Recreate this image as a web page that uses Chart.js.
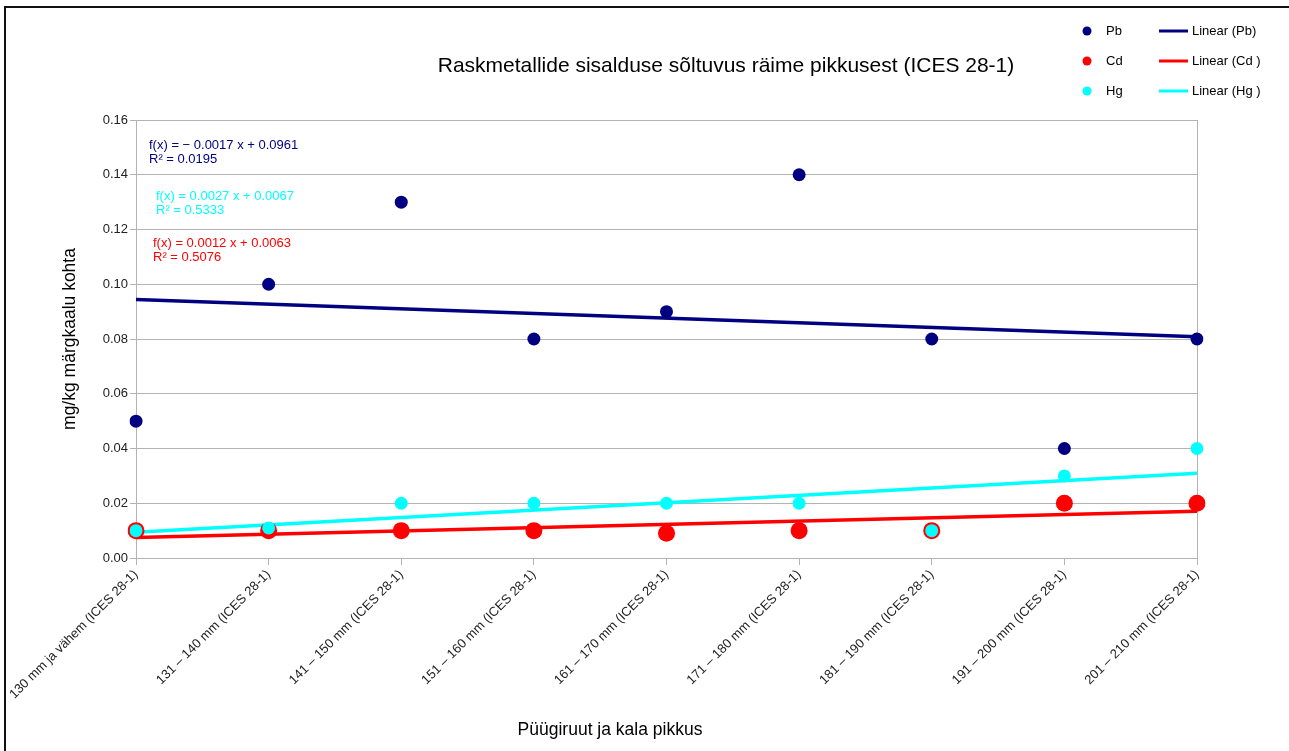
<!DOCTYPE html>
<html>
<head>
<meta charset="utf-8">
<script src="https://cdn.jsdelivr.net/npm/chart.js@4"></script>
<style>
  html, body { margin: 0; padding: 0; background: #fff; overflow: hidden; }
  #wrap { position: relative; width: 1289px; height: 751px; }
  #frame { position: absolute; left: 4px; top: 6px; width: 1400px; height: 900px;
           border: 2px solid #111; pointer-events: none; }
</style>
</head>
<body>
<div id="wrap">
  <canvas id="chart" width="1289" height="751"></canvas>
  <div id="frame"></div>
</div>
<script>
const categories = [
  '130 mm ja vähem (ICES 28-1)',
  '131 – 140 mm (ICES 28-1)',
  '141 – 150 mm (ICES 28-1)',
  '151 – 160 mm (ICES 28-1)',
  '161 – 170 mm (ICES 28-1)',
  '171 – 180 mm (ICES 28-1)',
  '181 – 190 mm (ICES 28-1)',
  '191 – 200 mm (ICES 28-1)',
  '201 – 210 mm (ICES 28-1)'
];

const pbValues = [0.05, 0.10, 0.13, 0.08, 0.09, 0.14, 0.08, 0.04, 0.08];
const cdValues = [0.01, 0.01, 0.01, 0.01, 0.009, 0.01, 0.01, 0.02, 0.02];
const hgValues = [0.01, 0.011, 0.02, 0.02, 0.02, 0.02, 0.01, 0.03, 0.04];

// trend line end values (first and last category)
const pbTrend = [0.0944, 0.0808];
const cdTrend = [0.0075, 0.0171];
const hgTrend = [0.0094, 0.0310];

const yTicks = [0, 0.02, 0.04, 0.06, 0.08, 0.10, 0.12, 0.14, 0.16];

const equations = [
  { lines: ['f(x) = − 0.0017 x + 0.0961', 'R² = 0.0195'], color: '#000080', x: 149, y: 145 },
  { lines: ['f(x) = 0.0027 x + 0.0067', 'R² = 0.5333'], color: '#00ffff', x: 156, y: 196 },
  { lines: ['f(x) = 0.0012 x + 0.0063', 'R² = 0.5076'], color: '#ff0000', x: 153, y: 243 }
];

const legendItems = [
  { point: 'Pb', line: 'Linear (Pb)', color: '#000080' },
  { point: 'Cd', line: 'Linear (Cd )', color: '#ff0000' },
  { point: 'Hg', line: 'Linear (Hg )', color: '#00ffff' }
];

const FONT = '"Liberation Sans", Arial, sans-serif';
const GRID = '#b3b3b3';

function trendData(ends) {
  return [
    { x: categories[0], y: ends[0] },
    { x: categories[categories.length - 1], y: ends[1] }
  ];
}

const decorPlugin = {
  id: 'decor',
  afterDraw(chart) {
    const ctx = chart.ctx;
    ctx.save();
    ctx.textBaseline = 'middle';

    // title
    ctx.fillStyle = '#000';
    ctx.font = `21px ${FONT}`;
    ctx.textAlign = 'center';
    ctx.fillText('Raskmetallide sisalduse sõltuvus räime pikkusest (ICES 28-1)', 726, 66);

    // axis titles
    ctx.font = `17.5px ${FONT}`;
    ctx.fillText('Püügiruut ja kala pikkus', 610, 730);
    ctx.save();
    ctx.translate(70, 339);
    ctx.rotate(-Math.PI / 2);
    ctx.fillText('mg/kg märgkaalu kohta', 0, 0);
    ctx.restore();

    // regression equations
    ctx.font = `13px ${FONT}`;
    ctx.textAlign = 'left';
    equations.forEach(eq => {
      ctx.fillStyle = eq.color;
      eq.lines.forEach((t, i) => ctx.fillText(t, eq.x, eq.y + i * 14.5));
    });

    // legend
    legendItems.forEach((item, i) => {
      const y = 31 + i * 30;
      ctx.fillStyle = item.color;
      ctx.beginPath();
      ctx.arc(1087, y, 4.5, 0, Math.PI * 2);
      ctx.fill();
      ctx.strokeStyle = item.color;
      ctx.lineWidth = 3;
      ctx.beginPath();
      ctx.moveTo(1159, y);
      ctx.lineTo(1188, y);
      ctx.stroke();
      ctx.fillStyle = '#000';
      ctx.fillText(item.point, 1106, y);
      ctx.fillText(item.line, 1192, y);
    });
    ctx.restore();
  }
};

new Chart(document.getElementById('chart'), {
  type: 'line',
  data: {
    labels: categories,
    datasets: [
      {
        label: 'Linear (Pb)', data: trendData(pbTrend),
        borderColor: '#000080', borderWidth: 3.5, pointRadius: 0, order: 10
      },
      {
        label: 'Linear (Cd )', data: trendData(cdTrend),
        borderColor: '#ff0000', borderWidth: 3.5, pointRadius: 0, order: 11
      },
      {
        label: 'Linear (Hg )', data: trendData(hgTrend),
        borderColor: '#00ffff', borderWidth: 3.5, pointRadius: 0, order: 12
      },
      {
        label: 'Pb', data: pbValues, showLine: false,
        backgroundColor: '#000080', borderColor: '#000080',
        pointRadius: 6.5, pointBorderWidth: 0, order: 3
      },
      {
        label: 'Cd', data: cdValues, showLine: false,
        backgroundColor: '#ff0000', borderColor: '#ff0000',
        pointRadius: 8.5, pointBorderWidth: 0, order: 2
      },
      {
        label: 'Hg', data: hgValues, showLine: false,
        backgroundColor: '#00ffff', borderColor: '#00ffff',
        pointRadius: 6.5, pointBorderWidth: 0, order: 1
      }
    ]
  },
  options: {
    responsive: false,
    animation: false,
    layout: { padding: { top: 120, right: 92, left: 0, bottom: 0 } },
    plugins: {
      legend: { display: false },
      title: { display: false },
      tooltip: { enabled: false }
    },
    scales: {
      x: {
        type: 'category',
        offset: false,
        grid: {
          color: c => (c.index === categories.length - 1 ? GRID : 'rgba(0,0,0,0)'),
          tickColor: GRID,
          tickLength: 7,
          drawOnChartArea: true
        },
        border: { color: GRID },
        ticks: {
          color: '#222',
          font: { family: FONT, size: 13 },
          maxRotation: 45,
          minRotation: 45,
          autoSkip: false,
          padding: 2
        },
        afterFit(scale) {
          scale.height = 193;
          scale.paddingLeft = 0;
          scale.paddingRight = 0;
        }
      },
      y: {
        min: 0,
        max: 0.16,
        afterBuildTicks(scale) {
          scale.ticks = yTicks.map(v => ({ value: v }));
        },
        grid: { color: GRID, tickColor: GRID, tickLength: 6 },
        border: { color: GRID },
        ticks: {
          color: '#222',
          font: { family: FONT, size: 13 },
          padding: 2,
          callback: v => v.toFixed(2)
        },
        afterFit(scale) {
          scale.width = 136;
          scale.paddingTop = 0;
          scale.paddingBottom = 0;
        }
      }
    }
  },
  plugins: [decorPlugin]
});
</script>
</body>
</html>
